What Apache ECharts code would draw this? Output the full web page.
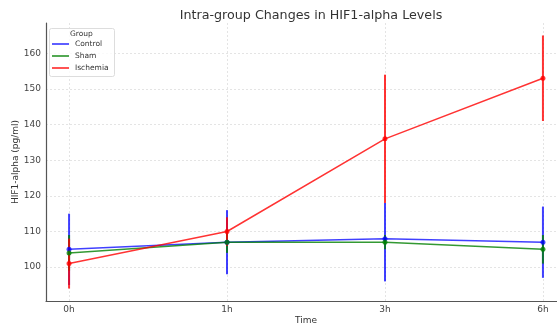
<!DOCTYPE html>
<html><head><meta charset="utf-8">
<script src="https://cdn.jsdelivr.net/npm/echarts@6/dist/echarts.min.js"></script>
<style>html,body{margin:0;padding:0;background:#fff}#c{width:557px;height:324px}</style>
</head><body><div id="c"></div>
<script>
const categories = ['0h', '1h', '3h', '6h'];
const yTicks = [100, 110, 120, 130, 140, 150, 160];
const controlMean = [105, 107, 108, 107];
const controlLow  = [95, 98, 96, 97];
const controlHigh = [115, 116, 118, 117];
const shamMean = [104, 107, 107, 105];
const shamLow  = [99, 104, 105, 101];
const shamHigh = [109, 110, 109, 109];
const ischMean = [101, 110, 136, 153];
const ischLow  = [94, 106, 118, 141];
const ischHigh = [108, 114, 154, 165];

const FONT = 'DejaVu Sans';
const groups = [
  {name: 'Control', color: 'rgba(0,0,255,0.75)', mean: controlMean, low: controlLow, high: controlHigh},
  {name: 'Sham', color: 'rgba(0,128,0,0.8)', mean: shamMean, low: shamLow, high: shamHigh},
  {name: 'Ischemia', color: 'rgba(255,0,0,0.8)', mean: ischMean, low: ischLow, high: ischHigh}
];
const xIdx = categories.map((c, i) => i);

const series = [];
groups.forEach(g => {
  series.push({
    type: 'custom', name: g.name, legendHoverLink: false, z: 2,
    data: xIdx.map(i => [i, g.low[i], g.high[i]]),
    renderItem: (params, api) => {
      const p1 = api.coord([api.value(0), api.value(1)]);
      const p2 = api.coord([api.value(0), api.value(2)]);
      return {type: 'line', shape: {x1: p1[0], y1: p1[1], x2: p2[0], y2: p2[1]},
        style: {stroke: g.color, lineWidth: 2}};
    }
  });
});
groups.forEach(g => {
  series.push({
    type: 'line', name: g.name, z: 3,
    data: xIdx.map(i => [i, g.mean[i]]),
    symbol: 'circle', symbolSize: 5,
    lineStyle: {color: g.color, width: 1.5},
    itemStyle: {color: g.color},
    animation: false
  });
});

const chart = echarts.init(document.getElementById('c'), null, {renderer: 'canvas'});
chart.setOption({
  animation: false,
  backgroundColor: '#fff',
  title: {text: 'Intra-group Changes in HIF1-alpha Levels', left: 306, textAlign: 'center', top: 4,
    textStyle: {fontFamily: FONT, fontSize: 12.7, fontWeight: 'normal', color: '#333'}},
  grid: {left: 46, right: -9, top: 23, bottom: 23, containLabel: false, outerBoundsMode: 'none'},
  legend: {
    z: 20, padding: 0,
    data: groups.map(g => ({name: g.name, icon: 'path://M0,0 L20,0 L20,2 L0,2 Z', itemStyle: {color: g.color}})),
    orient: 'vertical', left: 52, top: 40, itemWidth: 17, itemHeight: 2, itemGap: 4,
    textStyle: {fontFamily: FONT, fontSize: 7.5, color: '#333', padding: [0, 0, 0, 1]}
  },
  graphic: [
    {type: 'rect', left: 49, top: 28, z: 10, shape: {width: 65, height: 48, r: 2},
      style: {fill: 'rgba(255,255,255,0.8)', stroke: '#ddd', lineWidth: 1}, silent: true},
    {type: 'text', left: 70, top: 30, z: 11, style: {text: 'Group', fontFamily: FONT, fontSize: 7.5, fill: '#333'}}
  ],
  xAxis: {
    type: 'value', min: -0.146, max: 3.146,
    name: 'Time', nameLocation: 'middle', nameGap: 15, nameMoveOverlap: false,
    nameTextStyle: {fontFamily: FONT, fontSize: 9, color: '#333'},
    axisLine: {show: true, onZero: false, lineStyle: {color: '#555', width: 1.2}},
    axisTick: {show: false, customValues: xIdx},
    axisLabel: {customValues: xIdx, formatter: v => categories[Math.round(v)], fontFamily: FONT, fontSize: 9, color: '#444', margin: 4},
    splitLine: {show: true, lineStyle: {color: '#ddd', type: [2, 2], width: 0.8}}
  },
  yAxis: {
    type: 'value', min: 90.5, max: 168.5,
    name: 'HIF1-alpha (pg/ml)', nameLocation: 'middle', nameGap: 26, nameMoveOverlap: false,
    nameTextStyle: {fontFamily: FONT, fontSize: 9, color: '#333'},
    axisLine: {show: true, onZero: false, lineStyle: {color: '#555', width: 1.2}},
    axisTick: {show: false, customValues: yTicks},
    axisLabel: {customValues: yTicks, fontFamily: FONT, fontSize: 9, color: '#444', margin: 5},
    splitLine: {show: true, lineStyle: {color: '#ddd', type: [2, 2], width: 0.8}}
  },
  series: series
});
</script></body></html>
